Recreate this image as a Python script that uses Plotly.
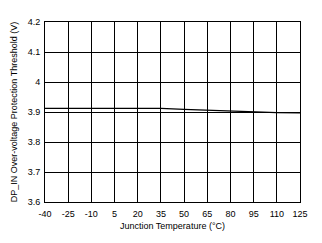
import plotly.graph_objects as go

temps = [-40, -25, -10, 5, 20, 35, 50, 65, 80, 95, 110, 125]
threshold = [3.912, 3.912, 3.912, 3.912, 3.912, 3.912, 3.909, 3.906, 3.903, 3.900, 3.898, 3.897]
x_ticks = [-40, -25, -10, 5, 20, 35, 50, 65, 80, 95, 110, 125]
y_ticks = [3.6, 3.7, 3.8, 3.9, 4.0, 4.1, 4.2]
y_labels = ["3.6", "3.7", "3.8", "3.9", "4", "4.1", "4.2"]

fig = go.Figure()
fig.add_trace(go.Scatter(x=temps, y=threshold, mode="lines",
                         line=dict(color="black", width=1.2), showlegend=False))

font = dict(family="Liberation Sans, Arial, sans-serif", size=9, color="black")
fig.update_layout(
    width=322, height=243,
    margin=dict(l=45, r=22, t=22, b=41),
    paper_bgcolor="white", plot_bgcolor="white",
    font=font,
    xaxis=dict(range=[-40, 125], tickvals=x_ticks, ticktext=[str(v) for v in x_ticks],
               showgrid=True, gridcolor="black", gridwidth=1,
               showline=True, linecolor="black", linewidth=1, mirror=True,
               zeroline=False, ticks="", tickfont=font, ticklabelstandoff=3,
               title=dict(text="Junction Temperature (°C)", font=font, standoff=4)),
    yaxis=dict(range=[3.6, 4.2], tickvals=y_ticks, ticktext=y_labels,
               showgrid=True, gridcolor="black", gridwidth=1,
               showline=True, linecolor="black", linewidth=1, mirror=True,
               zeroline=False, ticks="", tickfont=font, ticklabelstandoff=2,
               title=dict(text="DP_IN Over-voltage Protection Threshold (V)", font=font, standoff=8)),
)
fig.write_html("out.html")
